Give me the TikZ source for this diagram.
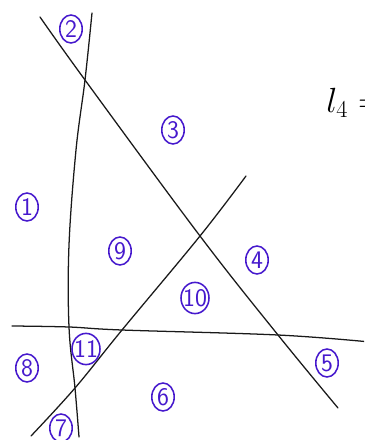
\documentclass[tikz,border=0pt]{standalone}
\usepackage{tikz}
\usetikzlibrary{positioning, shapes.geometric}
\definecolor{ink}{RGB}{70,25,205}

\begin{document}
\begin{tikzpicture}[
    x=0.025cm, y=-0.025cm,
    line/.style={draw=black!90, line width=0.9pt, line cap=round},
    region/.style={ellipse, draw=ink, text=ink, line width=1.1pt, inner sep=0pt,
        minimum width=0.56cm, minimum height=0.7cm, font=\sffamily\fontsize{18}{20}\selectfont},
    wideregion/.style={region, minimum width=0.7cm, minimum height=0.78cm}
]
    \useasboundingbox (0,0) rectangle (364,440);
    \clip (0,0) rectangle (364,440);

    % intersection points
    \coordinate (AB) at (85,80);
    \coordinate (BC) at (200,236);
    \coordinate (BD) at (278,335);
    \coordinate (CD) at (122,330);
    \coordinate (AC) at (75,388);
    \coordinate (AD) at (69,327);

    % line A (near vertical)
    \coordinate (A0) at (92,13);
    \coordinate (A1) at (76,150);
    \coordinate (A2) at (69,245);
    \coordinate (A3) at (79,437);
    \draw[line] plot[smooth, tension=0.6] coordinates {(A0) (AB) (A1) (A2) (AD) (AC) (A3)};

    % line B (falling diagonal)
    \coordinate (B0) at (40,17);
    \coordinate (B1) at (338,408);
    \draw[line] plot[smooth, tension=0.6] coordinates {(B0) (AB) (BC) (BD) (B1)};

    % line C (rising diagonal)
    \coordinate (C0) at (31,436);
    \coordinate (C1) at (246,176);
    \draw[line] plot[smooth, tension=0.6] coordinates {(C0) (AC) (CD) (BC) (C1)};

    % line D (horizontal)
    \coordinate (D0) at (12,326);
    \coordinate (D1) at (370,342);
    \draw[line] plot[smooth, tension=0.6] coordinates {(D0) (AD) (CD) (BD) (D1)};

    % regions
    \node[region] (r1) at (27,207) {\makebox[0pt]{1}};
    \node[region] (r2) at (71,29) {\makebox[0pt]{2}};
    \node[region] (r3) at (173,130) {\makebox[0pt]{3}};
    \node[region] (r4) at (257,260) {\makebox[0pt]{4}};
    \node[region] (r5) at (327,363) {\makebox[0pt]{5}};
    \node[region] (r6) at (163,397) {\makebox[0pt]{6}};
    \node[region] (r7) at (61,428) {\makebox[0pt]{7}};
    \node[region] (r8) at (27,368) {\makebox[0pt]{8}};
    \node[region] (r9) at (120,251) {\makebox[0pt]{9}};
    \node[wideregion] (r10) at (195,298) {\makebox[0pt]{10}};
    \node[wideregion] (r11) at (86,349) {\makebox[0pt]{11}};

    % label of line 4
    \node[anchor=base west, inner sep=0pt, font=\fontsize{26}{30}\selectfont] (lbl) at (326,112) {$l_4 =$};
\end{tikzpicture}
\end{document}
